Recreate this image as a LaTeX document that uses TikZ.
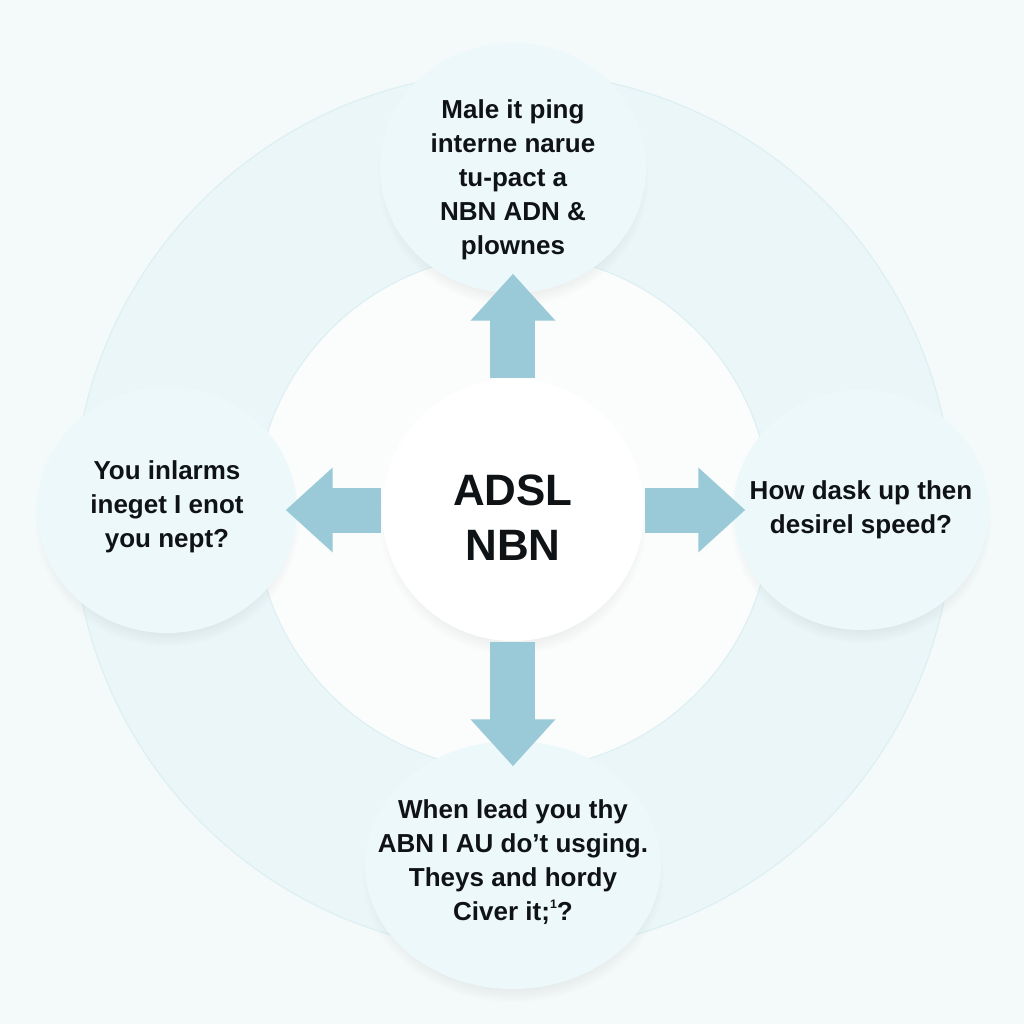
\documentclass[tikz,border=0pt]{standalone}
\usepackage{fontspec}
\setmainfont{Liberation Sans}
\usetikzlibrary{arrows.meta,shapes.geometric,shadows,fadings}

\definecolor{bgcol}{HTML}{F4F9FA}
\definecolor{ringcol}{HTML}{EAF6F8}
\definecolor{ringedge}{HTML}{DCEFF2}
\definecolor{satcol}{HTML}{EDF8FA}
\definecolor{arrowcol}{HTML}{9ACAD7}
\definecolor{txtcol}{HTML}{101316}

\begin{document}
\begin{tikzpicture}[
    >={Triangle[width=0.82cm,length=0.47cm]},
    sat/.style={ellipse, fill=satcol, inner sep=0pt,
        circular drop shadow={shadow xshift=0pt, shadow yshift=-3pt, shadow scale=1.02, opacity=0.15}},
    qtext/.style={align=center, text=txtcol, font=\fontsize{7.4}{9.7}\selectfont\bfseries},
    hub/.style={circle, fill=white, minimum size=2.62cm, inner sep=0pt,
        circular drop shadow={shadow xshift=0pt, shadow yshift=-3pt, shadow scale=1.02, opacity=0.15}},
    hubtext/.style={align=center, text=txtcol, font=\fontsize{12.5}{15.6}\selectfont\bfseries},
    flow/.style={->, line width=0.45cm, draw=arrowcol}
]
    % 背景
    \useasboundingbox (-5.12,-5.12) rectangle (5.12,5.12);
    \fill[bgcol] (-5.12,-5.12) rectangle (5.12,5.12);

    % 圆环
    \fill[white!60!bgcol] (0.01,0) circle (2.58);
    \filldraw[fill=ringcol, draw=ringedge, line width=0.3pt, even odd rule]
        (0.01,0) circle (4.40) (0.01,0) circle (2.58);

    % 四个问题
    \node[sat, minimum width=2.66cm, minimum height=2.5cm,
        label={[qtext, yshift=-0.12cm]center:Male it ping\\interne narue\\tu-pact a\\NBN ADN \&\\plownes}] (top) at (0.01,3.44) {};
    \node[sat, minimum width=2.6cm, minimum height=2.46cm,
        label={[qtext, yshift=0.03cm]center:You inlarms\\ineget I enot\\you nept?}] (left) at (-3.45,0.02) {};
    \node[sat, minimum width=2.56cm, minimum height=2.4cm,
        label={[qtext]center:How dask up then\\desirel speed?}] (right) at (3.49,0.02) {};
    \node[sat, minimum width=2.96cm, minimum height=2.48cm,
        label={[qtext, yshift=0.03cm]center:When lead you thy\\ABN I AU do’t usging.\\Theys and hordy\\Civer it;\raisebox{0.9ex}{\fontsize{3.5}{4}\selectfont 1}?}] (bottom) at (0.01,-3.53) {};

    % 中心
    \node[hub, label={[hubtext, yshift=-0.08cm]center:ADSL\\NBN}] (core) at (0.01,0.02) {};

    % 箭头
    \draw[flow, shorten >=-0.2cm] (core) -- (top);
    \draw[flow, shorten >=-0.12cm] (core) -- (left);
    \draw[flow, shorten >=-0.13cm] (core) -- (right);
    \draw[flow, shorten >=-0.26cm] (core) -- (bottom);
\end{tikzpicture}
\end{document}
